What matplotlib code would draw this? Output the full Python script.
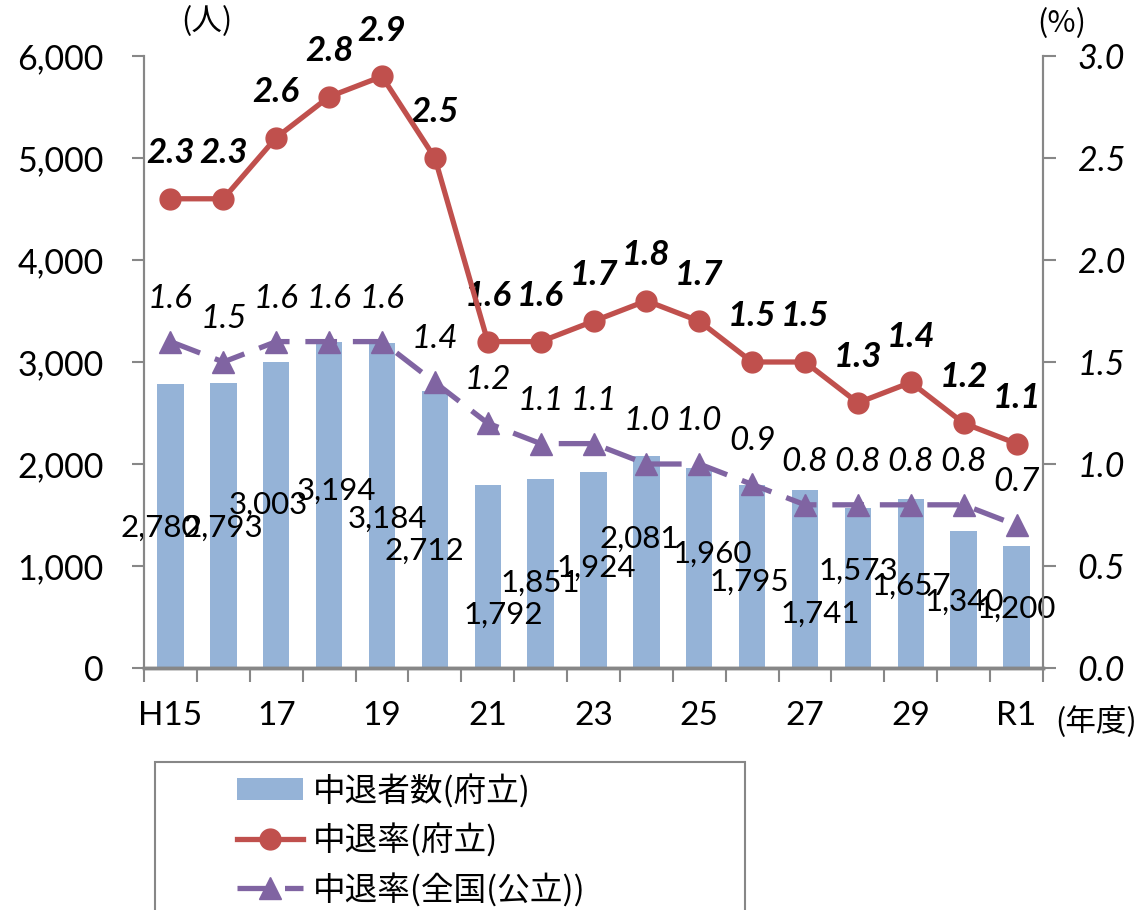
import matplotlib.pyplot as plt
from matplotlib.patches import Rectangle
import numpy as np

plt.rcParams['font.family'] = ['Lato', 'Noto Sans CJK JP', 'DejaVu Sans']

years = ['H15', '16', '17', '18', '19', '20', '21', '22', '23', '24',
         '25', '26', '27', '28', '29', '30', 'R1']
tick_text = ['H15', '', '17', '', '19', '', '21', '', '23', '', '25', '',
             '27', '', '29', '', 'R1']
dropouts = [2780, 2793, 3003, 3194, 3184, 2712, 1792, 1851, 1924, 2081,
            1960, 1795, 1741, 1573, 1657, 1340, 1200]
rate_fu = [2.3, 2.3, 2.6, 2.8, 2.9, 2.5, 1.6, 1.6, 1.7, 1.8, 1.7, 1.5, 1.5,
           1.3, 1.4, 1.2, 1.1]
rate_all = [1.6, 1.5, 1.6, 1.6, 1.6, 1.4, 1.2, 1.1, 1.1, 1.0, 1.0, 0.9, 0.8,
            0.8, 0.8, 0.8, 0.7]
# where Excel dropped the bar labels (x offset in categories, y in persons)
lab_dx = [-0.2, 0, -0.14, 0.13, 0.1, -0.19, 0.29, 0, 0.06, -0.14, 0.24,
          -0.06, 0.28, 0, 0, 0, 0]
lab_y = [1373, 1373, 1598, 1735, 1461, 1147, 520, 833, 980, 1265, 1118,
         843, 529, 951, 804, 647, 578]

bar_c = '#95B3D7'
red_c = '#C0504D'
pur_c = '#8064A2'
grey = '#878787'

fig = plt.figure(figsize=(11.44, 9.10), dpi=100)
ax = fig.add_axes([0.1259, 0.2659, 0.7858, 0.6726])
ax2 = ax.twinx()

x = np.arange(len(years))
bars = ax.bar(x, dropouts, width=0.5, color=bar_c, zorder=1)
ax.set_ylim(0, 6000)
ax.set_xlim(-0.5, len(years) - 0.5)
ax.set_yticks(range(0, 6001, 1000))
ax.set_yticklabels([f'{v:,}' for v in range(0, 6001, 1000)], fontsize=24.5)

for i, v in enumerate(dropouts):
    ax.text(i + lab_dx[i], lab_y[i], f'{v:,}', ha='center', va='center',
            fontsize=22.5, zorder=5)

l1, = ax2.plot(x, rate_fu, color=red_c, lw=3.8, marker='o', ms=15, zorder=4)
l2, = ax2.plot(x, rate_all, color=pur_c, lw=3.8, ls=(0, (6, 3)),
               marker='^', ms=16, zorder=3)
ax2.set_ylim(0, 3.0)
ax2.set_yticks(np.arange(0, 3.01, 0.5))
ax2.set_yticklabels([f'{v:.1f}' for v in np.arange(0, 3.01, 0.5)],
                    fontsize=24.5, style='italic')

for i, v in enumerate(rate_fu):
    ax2.annotate(f'{v:.1f}', (i, v), xytext=(0, 33), textcoords='offset points',
                 ha='center', va='center', fontsize=25, fontweight='bold',
                 style='italic')
for i, v in enumerate(rate_all):
    ax2.annotate(f'{v:.1f}', (i, v), xytext=(0, 31), textcoords='offset points',
                 ha='center', va='center', fontsize=24, style='italic')

# x axis: ticks between categories, labels every other year
ax.set_xticks(np.arange(-0.5, len(years), 1.0))
ax.set_xticklabels([])
ax.set_xticks(x, minor=True)
ax.set_xticklabels(tick_text, minor=True, fontsize=24)
ax.tick_params(axis='x', which='major', length=10, width=1.5, color=grey)
ax.tick_params(axis='x', which='minor', length=0, pad=24)
ax.tick_params(axis='y', length=9, width=1.5, color=grey, pad=20)
ax2.tick_params(axis='y', length=9, width=1.5, color=grey, pad=16)

for a in (ax, ax2):
    a.spines['top'].set_visible(False)
    a.spines['left'].set_color(grey)
    a.spines['right'].set_color(grey)
    a.spines['left'].set_linewidth(1.5)
    a.spines['right'].set_linewidth(1.5)
    a.spines['bottom'].set_color(grey)
    a.spines['bottom'].set_linewidth(2.5)
ax.set_zorder(ax2.get_zorder() - 1)
ax2.patch.set_visible(False)

fig.text(207 / 1144, 1 - 22 / 910, '(人)', ha='center', va='center',
         fontsize=22, family=['Noto Sans CJK JP'])
fig.text(1062 / 1144, 1 - 24 / 910, '(%)', ha='center', va='center',
         fontsize=22, family=['Noto Sans CJK JP'])
fig.text(1096 / 1144, 1 - 722 / 910, '(年度)', ha='center', va='center',
         fontsize=22, family=['Noto Sans CJK JP'])

# legend box runs off the bottom edge like in the source
fig.patches.append(Rectangle((155 / 1144, -0.05), 590 / 1144,
                             (910 - 762) / 910 + 0.05,
                             transform=fig.transFigure, fill=False,
                             edgecolor=grey, lw=1.5))
fig.legend([bars, l1, l2],
           ['中退者数(府立)', '中退率(府立)', '中退率(全国(公立))'],
           loc='upper left', bbox_to_anchor=(208 / 1144, 1 - 744 / 910),
           frameon=False, handlelength=2.0, labelspacing=0.48,
           handletextpad=0.3, prop={'family': ['Noto Sans CJK JP'], 'size': 23.5})

fig.savefig('out.png', dpi=100)
